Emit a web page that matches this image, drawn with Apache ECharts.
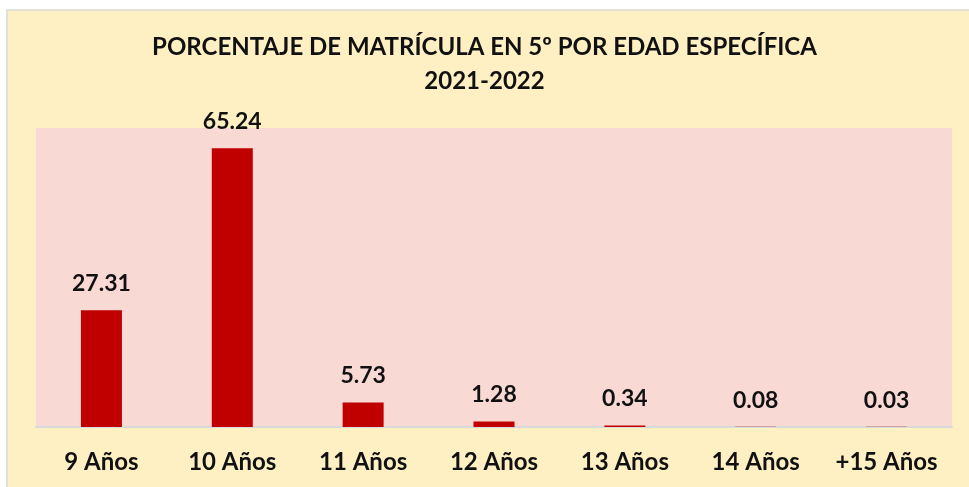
<!DOCTYPE html>
<html>
<head>
<meta charset="utf-8">
<script src="https://cdn.jsdelivr.net/npm/echarts@6/dist/echarts.min.js"></script>
<style>
  html, body { margin: 0; padding: 0; background: #fff; }
  #main { width: 969px; height: 487px; }
</style>
</head>
<body>
<div id="main"></div>
<script>
  // datos del gráfico
  var categories = ['9 Años', '10 Años', '11 Años', '12 Años', '13 Años', '14 Años', '+15 Años'];
  var values = [27.31, 65.24, 5.73, 1.28, 0.34, 0.08, 0.03];
  var titleLines = ['PORCENTAJE DE MATRÍCULA EN 5º POR EDAD ESPECÍFICA', '2021-2022'];

  var chart = echarts.init(document.getElementById('main'));
  var font = 'Lato';

  var option = {
    backgroundColor: '#ffffff',
    animation: false,
    graphic: [{
      type: 'rect',
      z: -10,
      shape: { x: 7, y: 10, width: 980, height: 500 },
      style: { fill: '#FFF0C4', stroke: '#D9D9D9', lineWidth: 1.5 }
    }],
    title: {
      text: titleLines.join('\n'),
      left: 'center',
      top: 25,
      textStyle: {
        fontFamily: font,
        fontWeight: 'bold',
        fontSize: 24,
        lineHeight: 34,
        color: '#111'
      }
    },
    grid: {
      left: 36,
      right: 17,
      top: 128,
      bottom: 60,
      show: true,
      backgroundColor: '#F9D9D4',
      borderWidth: 0
    },
    xAxis: {
      type: 'category',
      data: categories,
      axisLine: { lineStyle: { color: '#D9D9D9', width: 2 } },
      axisTick: { show: false },
      axisLabel: {
        interval: 0,
        hideOverlap: false,
        margin: 23,
        fontFamily: font,
        fontWeight: 'bold',
        fontSize: 24,
        color: '#111'
      }
    },
    yAxis: {
      type: 'value',
      min: 0,
      max: 70,
      show: false,
      splitLine: { show: false }
    },
    series: [{
      type: 'bar',
      data: values,
      barWidth: 41,
      itemStyle: { color: '#C00000' },
      label: {
        show: true,
        position: 'top',
        distance: 15,
        formatter: function (p) { return p.value.toFixed(2); },
        fontFamily: font,
        fontWeight: 'bold',
        fontSize: 23,
        color: '#111'
      }
    }]
  };

  chart.setOption(option);
</script>
</body>
</html>
